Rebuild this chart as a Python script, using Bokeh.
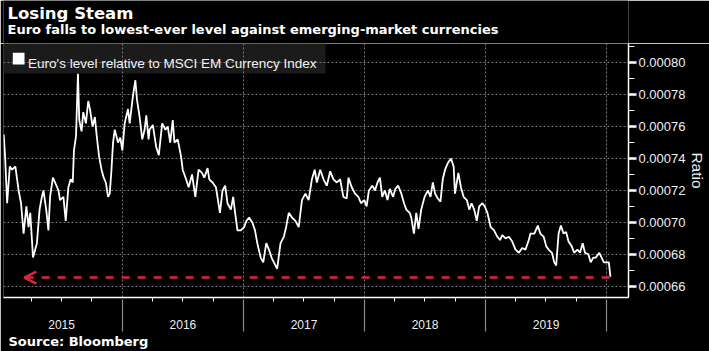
import numpy as np
import pandas as pd
from bokeh.plotting import figure
from bokeh.layouts import column
from bokeh.models import (FixedTicker, PrintfTickFormatter, Arrow, OpenHead, Range1d,
                          DatetimeAxis, DatetimeTickFormatter, Label, BoxAnnotation, Title)
from bokeh.embed import file_html
from bokeh.resources import INLINE

title_text = "Losing Steam"
subtitle_text = "Euro falls to lowest-ever level against emerging-market currencies"
source_text = "Source: Bloomberg"
series_name = "Euro's level relative to MSCI EM Currency Index"
y_axis_title = "Ratio"

# time as decimal years, value = EUR / MSCI EM Currency Index ratio
dec_year = [
    2015.021, 2015.033, 2015.049, 2015.071, 2015.090, 2015.117, 2015.144, 2015.164, 2015.185, 2015.208,
    2015.226, 2015.240, 2015.263, 2015.295, 2015.317, 2015.336, 2015.349, 2015.372, 2015.390, 2015.404,
    2015.427, 2015.445, 2015.473, 2015.486, 2015.514, 2015.533, 2015.555, 2015.574, 2015.591, 2015.601,
    2015.618, 2015.634, 2015.645, 2015.664, 2015.678, 2015.700, 2015.719, 2015.733, 2015.755, 2015.774,
    2015.788, 2015.809, 2015.829, 2015.847, 2015.864, 2015.883, 2015.897, 2015.911, 2015.924, 2015.938,
    2015.965, 2015.984, 2016.001, 2016.020, 2016.047, 2016.061, 2016.088, 2016.108, 2016.121, 2016.143,
    2016.165, 2016.184, 2016.198, 2016.217,
    2016.225, 2016.252, 2016.280, 2016.301, 2016.329, 2016.356, 2016.375, 2016.395, 2016.416, 2016.430,
    2016.457, 2016.485, 2016.498, 2016.526, 2016.547, 2016.575, 2016.602, 2016.629, 2016.657, 2016.676,
    2016.703, 2016.717, 2016.744, 2016.772, 2016.805, 2016.826, 2016.848, 2016.867, 2016.895, 2016.914,
    2016.930, 2016.949, 2016.977, 2017.004, 2017.023, 2017.045, 2017.072, 2017.094, 2017.113, 2017.141,
    2017.162, 2017.187, 2017.209, 2017.231, 2017.250, 2017.277, 2017.305, 2017.332, 2017.351, 2017.373,
    2017.400, 2017.428, 2017.455, 2017.482, 2017.510, 2017.537, 2017.564, 2017.587, 2017.605, 2017.633,
    2017.660, 2017.687, 2017.715, 2017.742, 2017.770, 2017.797, 2017.824, 2017.852, 2017.866, 2017.893,
    2017.920, 2017.948, 2017.970, 2017.997, 2018.016, 2018.035, 2018.063, 2018.085, 2018.106, 2018.126,
    2018.145, 2018.167, 2018.188, 2018.208, 2018.235, 2018.254, 2018.276, 2018.303, 2018.325, 2018.344,
    2018.372, 2018.385, 2018.407, 2018.426, 2018.445, 2018.467, 2018.495, 2018.522, 2018.544, 2018.563,
    2018.582, 2018.604, 2018.626, 2018.645, 2018.664, 2018.686, 2018.713, 2018.735, 2018.746, 2018.774,
    2018.795, 2018.817, 2018.844, 2018.864, 2018.883, 2018.905, 2018.926, 2018.946, 2018.973, 2018.992,
    2019.014, 2019.041, 2019.069, 2019.096, 2019.118, 2019.137, 2019.164, 2019.192, 2019.219, 2019.246,
    2019.274, 2019.301, 2019.328, 2019.356, 2019.369, 2019.402, 2019.430, 2019.451, 2019.479, 2019.500,
    2019.520, 2019.547, 2019.566, 2019.582, 2019.602, 2019.621, 2019.643, 2019.664, 2019.684, 2019.711,
    2019.730, 2019.758, 2019.779, 2019.801, 2019.820, 2019.848, 2019.867, 2019.889, 2019.910, 2019.938,
    2019.957, 2019.976, 2019.998, 2020.017, 2020.030,
]
ratio = [
    0.000755, 0.000740, 0.000712, 0.000735, 0.000733, 0.000735, 0.000720, 0.000712, 0.000693, 0.000710,
    0.000697, 0.000706, 0.000678, 0.000687, 0.000708, 0.000716, 0.000720, 0.000708, 0.000695, 0.000716,
    0.000728, 0.000725, 0.000720, 0.000714, 0.000716, 0.000701, 0.000722, 0.000727, 0.000725, 0.000745,
    0.000754, 0.000793, 0.000764, 0.000757, 0.000769, 0.000762, 0.000776, 0.000771, 0.000760, 0.000766,
    0.000755, 0.000741, 0.000733, 0.000728, 0.000725, 0.000716, 0.000718, 0.000733, 0.000750, 0.000758,
    0.000750, 0.000753, 0.000745, 0.000762, 0.000771, 0.000762, 0.000779, 0.000789, 0.000777, 0.000766,
    0.000752, 0.000758, 0.000767, 0.000752,
    0.000758, 0.000761, 0.000747, 0.000742, 0.000762, 0.000758, 0.000760, 0.000750, 0.000764, 0.000750,
    0.000752, 0.000741, 0.000733, 0.000727, 0.000722, 0.000730, 0.000716, 0.000733, 0.000731, 0.000728,
    0.000734, 0.000727, 0.000725, 0.000722, 0.000706, 0.000720, 0.000723, 0.000712, 0.000708, 0.000716,
    0.000706, 0.000695, 0.000695, 0.000697, 0.000701, 0.000703, 0.000700, 0.000695, 0.000687, 0.000678,
    0.000675, 0.000687, 0.000683, 0.000678, 0.000675, 0.000671, 0.000687, 0.000691, 0.000697, 0.000706,
    0.000703, 0.000701, 0.000697, 0.000714, 0.000718, 0.000714, 0.000727, 0.000733, 0.000725, 0.000733,
    0.000727, 0.000723, 0.000732, 0.000727, 0.000725, 0.000727, 0.000716, 0.000715, 0.000728, 0.000722,
    0.000718, 0.000716, 0.000712, 0.000714, 0.000710, 0.000720, 0.000723, 0.000720, 0.000725, 0.000728,
    0.000716, 0.000720, 0.000714, 0.000721, 0.000716, 0.000721, 0.000723, 0.000718, 0.000712, 0.000708,
    0.000706, 0.000703, 0.000693, 0.000706, 0.000696, 0.000708, 0.000716, 0.000720, 0.000716, 0.000725,
    0.000718, 0.000715, 0.000713, 0.000727, 0.000733, 0.000737, 0.000740, 0.000735, 0.000718, 0.000731,
    0.000722, 0.000716, 0.000714, 0.000708, 0.000712, 0.000708, 0.000701, 0.000710, 0.000712, 0.000710,
    0.000706, 0.000697, 0.000695, 0.000691, 0.000689, 0.000692, 0.000690, 0.000691, 0.000688, 0.000683,
    0.000681, 0.000684, 0.000683, 0.000689, 0.000693, 0.000693, 0.000698, 0.000693, 0.000691, 0.000685,
    0.000683, 0.000681, 0.000675, 0.000673, 0.000693, 0.000698, 0.000693, 0.000694, 0.000688, 0.000685,
    0.000681, 0.000683, 0.000681, 0.000687, 0.000681, 0.000680, 0.000675, 0.000678, 0.000678, 0.000681,
    0.000678, 0.000675, 0.000675, 0.000675, 0.000666,
]

# "lowest-ever" reference line (dashed red arrow)
low_line_start = 2020.023
low_line_end = 2015.191
low_line_value = 0.0006655

y_ticks = [0.00066, 0.00068, 0.00070, 0.00072, 0.00074, 0.00076, 0.00078, 0.00080]
y_minor_ticks = [0.00065, 0.00066, 0.00067, 0.00068, 0.00069, 0.00070, 0.00071, 0.00072, 0.00073,
                 0.00074, 0.00075, 0.00076, 0.00077, 0.00078, 0.00079, 0.00080, 0.00081]
years = [2015, 2016, 2017, 2018, 2019]
year_starts = [2015, 2016, 2017, 2018, 2019, 2020]
x_window = [2015.019, 2020.179]
y_window = [0.000653, 0.000812]

RED = "#d7263d"
W, H = 709, 351
HEADER_H, FRAME_H = 43, 254
BOTTOM_H = H - HEADER_H - FRAME_H


def to_ts(y):
    yr = int(np.floor(y))
    a = pd.Timestamp(year=yr, month=1, day=1)
    b = pd.Timestamp(year=yr + 1, month=1, day=1)
    return a + (b - a) * (y - yr)


def to_ms(y):
    return to_ts(y).value / 1e6


def month_ms(y, m, d=1):
    return pd.Timestamp(year=y, month=m, day=d).value / 1e6


# ---- header: title and subtitle
header = figure(width=W, height=HEADER_H, output_backend="svg", toolbar_location=None,
                x_axis_location=None, y_axis_location=None, title_location=None,
                x_range=Range1d(0, 1), y_range=Range1d(0, 1), min_border=0)
header.background_fill_color = "black"
header.border_fill_color = "black"
header.outline_line_color = None
header.xgrid.visible = False
header.ygrid.visible = False
header.add_layout(Label(x=4, y=HEADER_H - 13, x_units="screen", y_units="screen", text=title_text,
                        text_font="DejaVu Sans", text_font_style="bold", text_font_size="16.5px",
                        text_color="white", text_baseline="alphabetic"))
header.add_layout(Label(x=4, y=HEADER_H - 28.5, x_units="screen", y_units="screen", text=subtitle_text,
                        text_font="DejaVu Sans", text_font_style="bold", text_font_size="13px",
                        text_color="white", text_baseline="alphabetic"))

# ---- main chart
dates = [to_ts(v) for v in dec_year]

p = figure(width=W, height=FRAME_H + BOTTOM_H, x_axis_type="datetime", y_axis_location="right",
           output_backend="svg", toolbar_location=None, title_location=None,
           x_range=Range1d(to_ms(x_window[0]), to_ms(x_window[1])),
           y_range=Range1d(y_window[0], y_window[1]),
           min_border_left=3, min_border_right=77, min_border_top=0,
           min_border_bottom=BOTTOM_H)
p.background_fill_color = "black"
p.border_fill_color = "black"
p.outline_line_color = None

p.line(dates, ratio, line_color="white", line_width=1.8)

arrow = Arrow(end=OpenHead(size=12, line_color=RED, line_width=2.5),
              x_start=to_ms(low_line_start), y_start=low_line_value,
              x_end=to_ms(low_line_end), y_end=low_line_value,
              line_color=RED, line_width=2.5, line_dash="8 8")
p.add_layout(arrow)

# x axis 1: white line, quarter ticks, year labels centred in each year
boundaries = [month_ms(y, 1) for y in year_starts]
mid_years = [month_ms(y, 7, 2) for y in years]
quarters = [month_ms(y, m) for y in years for m in (4, 7, 10)]
xa = p.xaxis[0]
xa.ticker = FixedTicker(ticks=mid_years, minor_ticks=quarters)
yr_fmt = "%Y"
xa.formatter = DatetimeTickFormatter(milliseconds=yr_fmt, seconds=yr_fmt, minsec=yr_fmt,
                                     minutes=yr_fmt, hourmin=yr_fmt, hours=yr_fmt, days=yr_fmt,
                                     months=yr_fmt, years=yr_fmt)
xa.axis_line_color = "white"
xa.axis_line_width = 1.5
xa.major_tick_out = 0
xa.major_tick_in = 0
xa.minor_tick_line_color = "white"
xa.minor_tick_out = 4
xa.minor_tick_in = 0
xa.major_label_standoff = 18
xa.major_label_text_font = "Liberation Sans"
xa.major_label_text_font_size = "12px"
xa.major_label_text_color = "#eeeeee"

# x axis 2: long grey year separators reaching up to axis 1
xb = DatetimeAxis(ticker=FixedTicker(ticks=boundaries, minor_ticks=[]))
xb.axis_line_color = None
xb.major_tick_line_color = "#8a8a8a"
xb.major_tick_line_width = 1.2
xb.major_tick_in = 32
xb.major_tick_out = 0
xb.major_label_text_color = None
xb.major_label_text_font_size = "1px"
xb.major_label_standoff = 0
p.add_layout(xb, "below")

# source line under the axes
p.add_layout(Title(text=source_text, align="left", offset=5, standoff=0,
                   text_font="DejaVu Sans", text_font_style="bold", text_font_size="13px",
                   text_color="white"), "below")

# y axis (right)
ya = p.yaxis[0]
ya.ticker = FixedTicker(ticks=y_ticks, minor_ticks=y_minor_ticks)
ya.formatter = PrintfTickFormatter(format="%.5f")
ya.axis_line_color = "white"
ya.axis_line_width = 1.5
ya.major_tick_line_color = "white"
ya.major_tick_line_width = 2.5
ya.major_tick_out = 8
ya.major_tick_in = 0
ya.minor_tick_line_color = "white"
ya.minor_tick_out = 6
ya.minor_tick_in = 0
ya.major_label_standoff = 2
ya.major_label_text_font = "Liberation Sans"
ya.major_label_text_font_size = "13px"
ya.major_label_text_color = "#eeeeee"
ya.axis_label = y_axis_title
ya.axis_label_standoff = 1
ya.axis_label_text_font = "Liberation Sans"
ya.axis_label_text_font_size = "15.5px"
ya.axis_label_text_font_style = "normal"
ya.axis_label_text_color = "#eeeeee"

p.xgrid[0].ticker = FixedTicker(ticks=boundaries)
for g in (p.xgrid[0], p.ygrid[0]):
    g.grid_line_color = "#7a7a7a"
    g.grid_line_dash = "2 2"
    g.grid_line_width = 1

# legend box (drawn beneath the grid, as in the original)
p.add_layout(BoxAnnotation(left=0, right=322, top=FRAME_H, bottom=FRAME_H - 30,
                           left_units="screen", right_units="screen",
                           top_units="screen", bottom_units="screen",
                           fill_color="#1b1b1b", fill_alpha=1, line_color=None, level="image"))
p.add_layout(BoxAnnotation(left=9.3, right=21, top=FRAME_H - 9.3, bottom=FRAME_H - 21,
                           left_units="screen", right_units="screen",
                           top_units="screen", bottom_units="screen",
                           fill_color="white", fill_alpha=1, line_color=None))
p.add_layout(Label(x=24.6, y=FRAME_H - 20.3, x_units="screen", y_units="screen", text=series_name,
                   text_font="Liberation Sans", text_font_size="13.5px", text_color="#f0f0f0",
                   text_baseline="alphabetic"))

layout = column(header, p, spacing=0)
open("out.html", "w").write(file_html(layout, INLINE))
